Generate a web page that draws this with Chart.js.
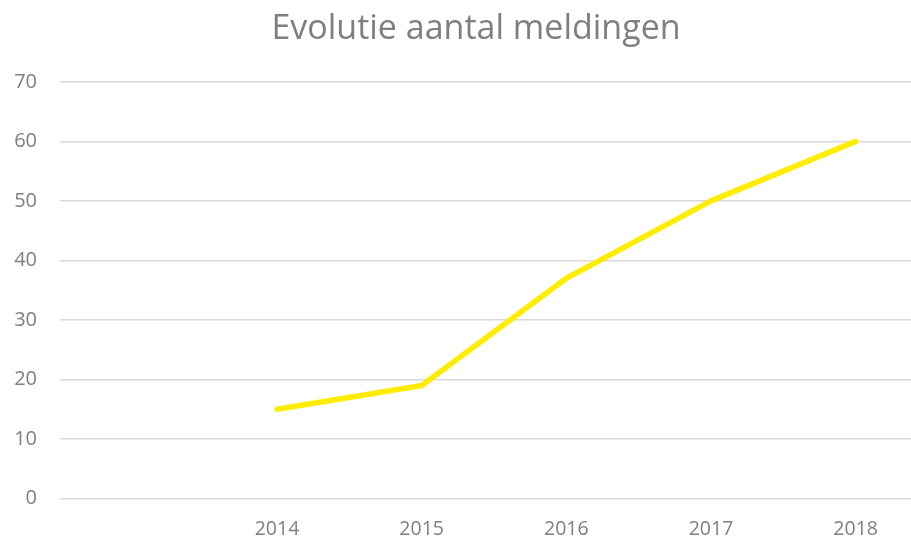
<!DOCTYPE html>
<html>
<head>
<meta charset="utf-8">
<script src="https://cdn.jsdelivr.net/npm/chart.js@4"></script>
<style>
    html, body { margin: 0; padding: 0; background: #fff; overflow: hidden; }
    /* the original chart is bigger than the picture, its right and bottom edges are cut off */
    .wrap { width: 911px; height: 538px; overflow: hidden; }
    .box { width: 952px; height: 560px; position: relative; }
</style>
</head>
<body>
<div class="wrap"><div class="box"><canvas id="myChart"></canvas></div></div>
<script>
// Chart data (first category is empty in the original)
const years = ["", "2014", "2015", "2016", "2017", "2018"];
const meldingen = [null, 15, 19, 37, 50, 60];
const yTicks = [0, 10, 20, 30, 40, 50, 60, 70];

const grey = "#7f7f7f";
const ctx = document.getElementById("myChart").getContext("2d");

new Chart(ctx, {
    type: "line",
    data: {
        labels: years,
        datasets: [{
            label: "Aantal meldingen",
            data: meldingen,
            borderColor: "#FFED00",
            borderWidth: 5.5,
            borderCapStyle: "round",
            borderJoinStyle: "round",
            pointRadius: 0,
            fill: false,
            tension: 0
        }]
    },
    options: {
        responsive: true,
        maintainAspectRatio: false,
        animation: false,
        layout: { padding: 0 },
        plugins: {
            legend: { display: false },
            tooltip: { enabled: false },
            title: {
                display: true,
                text: "Evolutie aantal meldingen",
                color: grey,
                font: { family: "Open Sans", size: 34, weight: "normal" },
                padding: { top: 9, bottom: 32 }
            }
        },
        scales: {
            x: {
                offset: true,
                grid: { display: false, drawTicks: false },
                border: { display: false },
                ticks: {
                    color: grey,
                    font: { family: "Open Sans", size: 19.5 },
                    padding: 19,
                    maxRotation: 0
                }
            },
            y: {
                min: yTicks[0],
                max: yTicks[yTicks.length - 1],
                afterBuildTicks: function (axis) {
                    axis.ticks = yTicks.map(v => ({ value: v }));
                },
                afterFit: function (axis) {
                    axis.width = 60;
                },
                grid: { color: "#d9d9d9", lineWidth: 1.5, drawTicks: false },
                border: { display: false },
                ticks: {
                    color: grey,
                    font: { family: "Open Sans", size: 20 },
                    padding: 23
                }
            },
            // empty space on the right of the plot
            yRight: {
                position: "right",
                grid: { display: false, drawTicks: false },
                border: { display: false },
                ticks: { display: false },
                afterFit: function (axis) {
                    axis.width = 24;
                }
            }
        }
    }
});
</script>
</body>
</html>
